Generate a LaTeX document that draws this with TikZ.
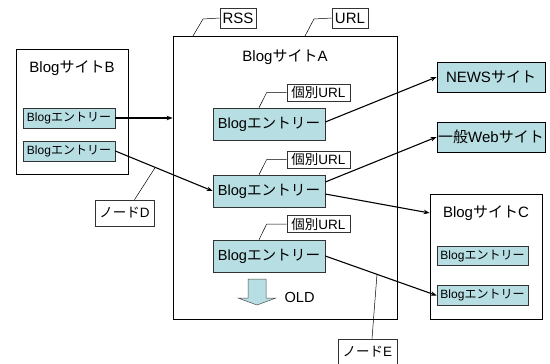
\documentclass[tikz,border=0pt]{standalone}
\usepackage{fontspec}
\setmainfont{Liberation Sans}
\newfontfamily\jp{Noto Sans CJK JP}
\usetikzlibrary{arrows.meta,calc}
\definecolor{entryfill}{RGB}{183,222,226}
\begin{document}
\begin{tikzpicture}[x=1pt,y=-1pt,
  site/.style={draw=black,line width=0.8pt,fill=white,minimum width=#1,inner sep=0pt},
  entry/.style={draw=black!80,line width=0.6pt,fill=entryfill,inner sep=0pt},
  tag/.style={draw=black!80,line width=0.6pt,fill=white,inner sep=0pt,minimum height=17pt},
  link/.style={line width=1.1pt,-{Stealth[length=6pt,width=4.5pt]}},
  callout/.style={line width=0.5pt},
  title/.style={font=\fontsize{15}{17}\selectfont},
  big/.style={font=\fontsize{14.6}{16}\selectfont},
  small/.style={font=\fontsize{12}{13}\selectfont},
  lab/.style={font=\fontsize{13.5}{14}\selectfont},
  toplab/.style={font=\fontsize{15}{16}\selectfont}]
\useasboundingbox (0,0) rectangle (550,364);
% site boxes
\node[site=112pt,minimum height=125pt] (B) at (72,111.5) {};
\node[site=224pt,minimum height=283pt] (A) at (285,177.5) {};
\node[site=112pt,minimum height=125pt] (C) at (486,256.5) {};
% titles
\node[title] (Bt) at (72,68.5) {Blog{\jp サイト}B};
\node[title] (At) at (285,57) {Blog{\jp サイト}A};
\node[title] (Ct) at (486,213) {Blog{\jp サイト}C};
% B entries
\node[entry,small,minimum width=92pt,minimum height=20pt] (b1) at (69,118) {Blog{\jp エントリー}};
\node[entry,small,minimum width=92pt,minimum height=20pt] (b2) at (69,151) {Blog{\jp エントリー}};
% A entries
\node[entry,big,minimum width=112pt,minimum height=32pt] (a1) at (269,124) {Blog{\jp エントリー}};
\node[entry,big,minimum width=112pt,minimum height=32pt] (a2) at (269,191) {Blog{\jp エントリー}};
\node[entry,big,minimum width=112pt,minimum height=32pt] (a3) at (269,256) {Blog{\jp エントリー}};
% C entries
\node[entry,small,minimum width=91pt,minimum height=19pt] (c1) at (482.5,256) {Blog{\jp エントリー}};
\node[entry,small,minimum width=91pt,minimum height=20pt] (c2) at (482.5,295.5) {Blog{\jp エントリー}};
% external sites
\node[entry,draw=black,line width=0.8pt,title,minimum width=108pt,minimum height=30pt] (news) at (491,77) {NEWS{\jp サイト}};
\node[entry,draw=black,line width=0.8pt,title,minimum width=108pt,minimum height=30pt] (web) at (491,137) {{\jp 一般}Web{\jp サイト}};
% tags
\node[tag,toplab,minimum width=36pt,minimum height=20pt] (rss) at (238,18) {RSS};
\node[tag,toplab,minimum width=36pt,minimum height=20pt] (url) at (350,18) {URL};
\node[tag,lab,minimum width=63pt] (u1) at (318.5,92.5) {{\jp 個別}URL};
\node[tag,lab,minimum width=63pt] (u2) at (318.5,159.5) {{\jp 個別}URL};
\node[tag,lab,minimum width=63pt] (u3) at (318.5,224) {{\jp 個別}URL};
\node[tag,lab,minimum width=59pt,minimum height=26pt] (nd) at (124.5,213) {{\jp ノード}D};
\node[tag,lab,minimum width=59pt,minimum height=26pt] (ne) at (367.5,352) {{\jp ノード}E};
% OLD arrow
\draw[draw=black!70,line width=0.5pt,fill=entryfill] (248,279) -- (266,279) -- (266,298) -- (276,298) -- (257,305) -- (238,298) -- (248,298) -- cycle;
\node[big,anchor=west] (old) at (281,297) {OLD};
% links
\draw[link] (b1.east) -- (b1.east -| A.west);
\draw[link] (b2.east) -- coordinate[pos=0.41] (dlink) (a2.west);
\draw[link] ([yshift=2pt]a1.east) -- (news.west);
\draw[link] ([yshift=9pt]a2.east) -- (web.west);
\draw[link] ([yshift=-3pt]a2.east) -- (Ct -| C.west);
\draw[link] (a3.east) -- coordinate[pos=0.464] (elink) (c2.west);
% callouts
\draw[callout] (193,36) -- (203,19) -- (rss.west);
\draw[callout] (305,36) -- (314,19) -- (url.west);
\draw[callout] ([xshift=-10pt]a1.north) -- ($(u1.west)+(-20,0)$) -- (u1.west);
\draw[callout] ([xshift=-10pt]a2.north) -- ($(u2.west)+(-20,0)$) -- (u2.west);
\draw[callout] ([xshift=-10pt]a3.north) -- ($(u3.west)+(-20,0)$) -- (u3.west);
\draw[callout] ([xshift=10pt]nd.north) -- (dlink);
\draw[callout] ([xshift=4.5pt]ne.north) -- (elink);
\end{tikzpicture}
\end{document}
